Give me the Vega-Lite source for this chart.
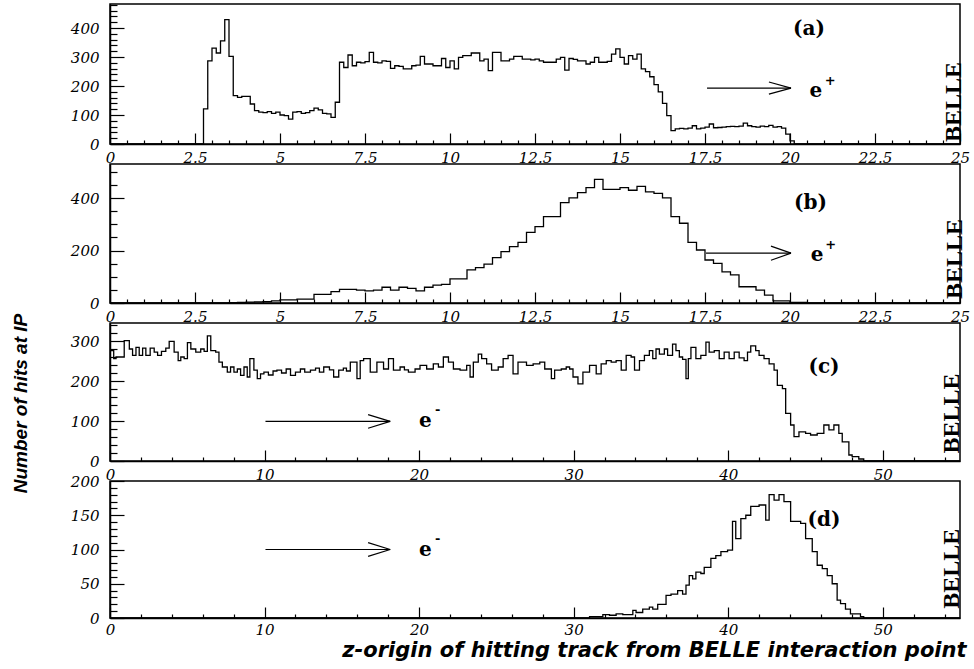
{
"$schema":"https://vega.github.io/schema/vega-lite/v6.json",
"background":"white",
"padding":{"left":10,"top":-3,"right":5,"bottom":5},
"bounds":"flush",
"spacing":20,
"config":{
 "view":{"stroke":"black","strokeWidth":1.5},
 "axis":{"domainColor":"black","domainWidth":1.5,"tickColor":"black","tickWidth":1.2,"ticks":true,"labelFont":"DejaVu Serif","labelFontStyle":"italic","labelFontSize":15,"labelColor":"black","labelFlush":false,"labelOverlap":false,"grid":false,"titleColor":"black"}
},
"vconcat":[
{
 "width":850,"height":140,
 "encoding":{
  "x":{"field":"x","type":"quantitative","scale":{"domain":[0,25],"nice":false,"zero":false},"axis":{"title":null,"format":".1~f","values":[0,0.5,1,1.5,2,2.5,3,3.5,4,4.5,5,5.5,6,6.5,7,7.5,8,8.5,9,9.5,10,10.5,11,11.5,12,12.5,13,13.5,14,14.5,15,15.5,16,16.5,17,17.5,18,18.5,19,19.5,20,20.5,21,21.5,22,22.5,23,23.5,24,24.5,25],"labelExpr":"datum.value % 2.5 === 0 ? datum.label : ''","tickSize":{"condition":{"test":"datum.value % 2.5 === 0","value":-11},"value":-4},"labelPadding":17}},
  "y":{"field":"y","type":"quantitative","scale":{"domain":[0,483],"nice":false},"axis":{"title":null,"format":"d","values":[0,20,40,60,80,100,120,140,160,180,200,220,240,260,280,300,320,340,360,380,400,420,440,460,480],"labelExpr":"datum.value % 100 === 0 ? datum.label : ''","tickSize":{"condition":{"test":"datum.value % 100 === 0","value":-14},"value":-7},"labelPadding":25}}
 },
 "layer":[
  {"data":{"values":[{"x":0,"y":0},{"x":2.75,"y":121},{"x":2.875,"y":287},{"x":3.0,"y":331},{"x":3.125,"y":314},{"x":3.25,"y":356},{"x":3.375,"y":429},{"x":3.5,"y":302},{"x":3.625,"y":167},{"x":3.75,"y":161},{"x":3.875,"y":164},{"x":4.0,"y":164},{"x":4.125,"y":138},{"x":4.25,"y":115},{"x":4.375,"y":110},{"x":4.5,"y":108},{"x":4.625,"y":112},{"x":4.75,"y":106},{"x":4.875,"y":110},{"x":5.0,"y":100},{"x":5.125,"y":98},{"x":5.25,"y":86},{"x":5.375,"y":110},{"x":5.5,"y":112},{"x":5.625,"y":106},{"x":5.75,"y":108},{"x":5.875,"y":115},{"x":6.0,"y":124},{"x":6.125,"y":118},{"x":6.25,"y":106},{"x":6.375,"y":104},{"x":6.5,"y":92},{"x":6.625,"y":144},{"x":6.75,"y":282},{"x":6.875,"y":264},{"x":7.0,"y":307},{"x":7.125,"y":270},{"x":7.25,"y":282},{"x":7.375,"y":280},{"x":7.5,"y":284},{"x":7.625,"y":316},{"x":7.75,"y":282},{"x":7.875,"y":280},{"x":8.0,"y":287},{"x":8.125,"y":285},{"x":8.25,"y":261},{"x":8.375,"y":270},{"x":8.5,"y":268},{"x":8.625,"y":259},{"x":8.75,"y":259},{"x":8.875,"y":270},{"x":9.0,"y":272},{"x":9.125,"y":302},{"x":9.25,"y":276},{"x":9.375,"y":276},{"x":9.5,"y":270},{"x":9.625,"y":270},{"x":9.75,"y":295},{"x":9.875,"y":264},{"x":10.0,"y":287},{"x":10.125,"y":259},{"x":10.25,"y":299},{"x":10.375,"y":305},{"x":10.5,"y":305},{"x":10.625,"y":314},{"x":10.75,"y":314},{"x":10.875,"y":287},{"x":11.0,"y":293},{"x":11.125,"y":253},{"x":11.25,"y":316},{"x":11.375,"y":316},{"x":11.5,"y":287},{"x":11.625,"y":287},{"x":11.75,"y":293},{"x":11.875,"y":302},{"x":12.0,"y":302},{"x":12.125,"y":293},{"x":12.25,"y":293},{"x":12.375,"y":290},{"x":12.5,"y":293},{"x":12.625,"y":287},{"x":12.75,"y":282},{"x":12.875,"y":282},{"x":13.0,"y":282},{"x":13.125,"y":293},{"x":13.25,"y":299},{"x":13.375,"y":255},{"x":13.5,"y":295},{"x":13.625,"y":292},{"x":13.75,"y":287},{"x":13.875,"y":287},{"x":14.0,"y":276},{"x":14.125,"y":282},{"x":14.25,"y":299},{"x":14.375,"y":282},{"x":14.5,"y":282},{"x":14.625,"y":285},{"x":14.75,"y":310},{"x":14.875,"y":328},{"x":15.0,"y":299},{"x":15.125,"y":276},{"x":15.25,"y":305},{"x":15.375,"y":293},{"x":15.5,"y":310},{"x":15.625,"y":259},{"x":15.75,"y":250},{"x":15.875,"y":232},{"x":16.0,"y":205},{"x":16.125,"y":180},{"x":16.25,"y":140},{"x":16.375,"y":98},{"x":16.5,"y":46},{"x":16.625,"y":52},{"x":16.75,"y":54},{"x":16.875,"y":52},{"x":17.0,"y":55},{"x":17.125,"y":63},{"x":17.25,"y":52},{"x":17.375,"y":55},{"x":17.5,"y":58},{"x":17.625,"y":69},{"x":17.75,"y":56},{"x":17.875,"y":57},{"x":18.0,"y":58},{"x":18.125,"y":60},{"x":18.25,"y":61},{"x":18.375,"y":60},{"x":18.5,"y":62},{"x":18.625,"y":72},{"x":18.75,"y":63},{"x":18.875,"y":60},{"x":19.0,"y":58},{"x":19.125,"y":62},{"x":19.25,"y":60},{"x":19.375,"y":64},{"x":19.5,"y":58},{"x":19.625,"y":60},{"x":19.75,"y":55},{"x":19.875,"y":34},{"x":20.0,"y":11},{"x":20.125,"y":0},{"x":25,"y":0}]},"mark":{"type":"line","interpolate":"step-after","color":"black","strokeWidth":1.3}},
  {"data":{"values":[{"x":17.56,"x2":20.03,"y":193,"y2":193},{"x":19.38,"x2":20.03,"y":214,"y2":193},{"x":19.38,"x2":20.03,"y":172,"y2":193}]},"mark":{"type":"rule","color":"black","strokeWidth":1.2},"encoding":{"x2":{"field":"x2"},"y2":{"field":"y2"}}},
  {"data":{"values":[{"x":20.56,"y":397,"t":"(a)","s":20},{"x":20.76,"y":183,"t":"e","s":20},{"x":21.18,"y":217,"t":"+","s":13}]},"mark":{"type":"text","font":"DejaVu Serif","fontWeight":"bold","color":"black"},"encoding":{"text":{"field":"t"},"size":{"field":"s","type":"quantitative","scale":null}}},
  {"data":{"values":[{"x":24.82,"y":145,"t":"BELLE"}]},"mark":{"type":"text","font":"Liberation Serif","fontWeight":"bold","fontSize":24,"angle":270,"color":"black"},"encoding":{"text":{"field":"t"}}}
 ]
},
{
 "width":850,"height":139,
 "encoding":{
  "x":{"field":"x","type":"quantitative","scale":{"domain":[0,25],"nice":false,"zero":false},"axis":{"title":null,"format":".1~f","values":[0,0.5,1,1.5,2,2.5,3,3.5,4,4.5,5,5.5,6,6.5,7,7.5,8,8.5,9,9.5,10,10.5,11,11.5,12,12.5,13,13.5,14,14.5,15,15.5,16,16.5,17,17.5,18,18.5,19,19.5,20,20.5,21,21.5,22,22.5,23,23.5,24,24.5,25],"labelExpr":"datum.value % 2.5 === 0 ? datum.label : ''","tickSize":{"condition":{"test":"datum.value % 2.5 === 0","value":-11},"value":-4},"labelPadding":17}},
  "y":{"field":"y","type":"quantitative","scale":{"domain":[0,530],"nice":false},"axis":{"title":null,"format":"d","values":[0,50,100,150,200,250,300,350,400,450,500],"labelExpr":"datum.value % 200 === 0 ? datum.label : ''","tickSize":{"condition":{"test":"datum.value % 200 === 0","value":-14},"value":-7},"labelPadding":25}}
 },
 "layer":[
  {"data":{"values":[{"x":0,"y":0},{"x":3.5,"y":1},{"x":3.75,"y":2},{"x":4.0,"y":3},{"x":4.25,"y":4},{"x":4.5,"y":5},{"x":4.75,"y":8},{"x":5.0,"y":12},{"x":5.25,"y":12},{"x":5.5,"y":15},{"x":5.75,"y":15},{"x":6.0,"y":33},{"x":6.25,"y":33},{"x":6.5,"y":43},{"x":6.75,"y":52},{"x":7.0,"y":52},{"x":7.25,"y":49},{"x":7.5,"y":46},{"x":7.75,"y":49},{"x":8.0,"y":60},{"x":8.25,"y":49},{"x":8.5,"y":60},{"x":8.75,"y":56},{"x":9.0,"y":46},{"x":9.25,"y":60},{"x":9.5,"y":68},{"x":9.75,"y":71},{"x":10.0,"y":92},{"x":10.25,"y":92},{"x":10.5,"y":126},{"x":10.75,"y":135},{"x":11.0,"y":148},{"x":11.25,"y":173},{"x":11.5,"y":196},{"x":11.75,"y":215},{"x":12.0,"y":231},{"x":12.25,"y":269},{"x":12.5,"y":291},{"x":12.75,"y":329},{"x":13.0,"y":329},{"x":13.25,"y":383},{"x":13.5,"y":401},{"x":13.75,"y":421},{"x":14.0,"y":440},{"x":14.25,"y":471},{"x":14.5,"y":433},{"x":14.75,"y":433},{"x":15.0,"y":440},{"x":15.25,"y":430},{"x":15.5,"y":445},{"x":15.75,"y":424},{"x":16.0,"y":418},{"x":16.25,"y":401},{"x":16.5,"y":329},{"x":16.75,"y":304},{"x":17.0,"y":231},{"x":17.25,"y":202},{"x":17.5,"y":164},{"x":17.75,"y":151},{"x":18.0,"y":119},{"x":18.25,"y":107},{"x":18.5,"y":62},{"x":18.75,"y":62},{"x":19.0,"y":49},{"x":19.25,"y":30},{"x":19.5,"y":8},{"x":19.75,"y":8},{"x":20.0,"y":2},{"x":20.25,"y":2},{"x":20.5,"y":0},{"x":25,"y":0}]},"mark":{"type":"line","interpolate":"step-after","color":"black","strokeWidth":1.3}},
  {"data":{"values":[{"x":17.53,"x2":20.03,"y":190,"y2":190},{"x":19.44,"x2":20.03,"y":217,"y2":190},{"x":19.44,"x2":20.03,"y":163,"y2":190}]},"mark":{"type":"rule","color":"black","strokeWidth":1.2},"encoding":{"x2":{"field":"x2"},"y2":{"field":"y2"}}},
  {"data":{"values":[{"x":20.6,"y":381,"t":"(b)","s":20},{"x":20.8,"y":183,"t":"e","s":20},{"x":21.2,"y":221,"t":"+","s":13}]},"mark":{"type":"text","font":"DejaVu Serif","fontWeight":"bold","color":"black"},"encoding":{"text":{"field":"t"},"size":{"field":"s","type":"quantitative","scale":null}}},
  {"data":{"values":[{"x":24.85,"y":168,"t":"BELLE"}]},"mark":{"type":"text","font":"Liberation Serif","fontWeight":"bold","fontSize":24,"angle":270,"color":"black"},"encoding":{"text":{"field":"t"}}}
 ]
},
{
 "width":850,"height":138,
 "encoding":{
  "x":{"field":"x","type":"quantitative","scale":{"domain":[0,55],"nice":false,"zero":false},"axis":{"title":null,"format":"d","values":[0,2,4,6,8,10,12,14,16,18,20,22,24,26,28,30,32,34,36,38,40,42,44,46,48,50,52,54],"labelExpr":"datum.value % 10 === 0 ? datum.label : ''","tickSize":{"condition":{"test":"datum.value % 10 === 0","value":-11},"value":-4},"labelPadding":17}},
  "y":{"field":"y","type":"quantitative","scale":{"domain":[0,345],"nice":false},"axis":{"title":"Number of hits at IP","titleFont":"Liberation Sans","titleFontStyle":"italic","titleFontWeight":"bold","titleFontSize":19,"titleX":-84,"titleY":80,"titleBaseline":"alphabetic","titleAngle":270,"titleAlign":"center","format":"d","values":[0,20,40,60,80,100,120,140,160,180,200,220,240,260,280,300,320,340],"labelExpr":"datum.value % 100 === 0 ? datum.label : ''","tickSize":{"condition":{"test":"datum.value % 100 === 0","value":-14},"value":-7},"labelPadding":25}}
 },
 "layer":[
  {"data":{"values":[{"x":0,"y":276},{"x":0.24,"y":256},{"x":0.39,"y":260},{"x":0.92,"y":301},{"x":1.25,"y":280},{"x":1.46,"y":264},{"x":1.68,"y":284},{"x":1.89,"y":264},{"x":2.11,"y":282},{"x":2.32,"y":264},{"x":2.6,"y":282},{"x":2.86,"y":272},{"x":3.08,"y":264},{"x":3.33,"y":274},{"x":3.61,"y":282},{"x":3.83,"y":299},{"x":4.15,"y":272},{"x":4.41,"y":251},{"x":4.58,"y":260},{"x":4.8,"y":256},{"x":5.01,"y":296},{"x":5.23,"y":280},{"x":5.55,"y":272},{"x":5.87,"y":280},{"x":6.09,"y":274},{"x":6.3,"y":313},{"x":6.52,"y":276},{"x":6.84,"y":272},{"x":7.05,"y":247},{"x":7.27,"y":235},{"x":7.59,"y":222},{"x":7.8,"y":235},{"x":8.02,"y":222},{"x":8.24,"y":230},{"x":8.45,"y":214},{"x":8.67,"y":235},{"x":8.88,"y":210},{"x":9.05,"y":256},{"x":9.31,"y":227},{"x":9.53,"y":206},{"x":9.74,"y":218},{"x":9.96,"y":222},{"x":10.25,"y":215},{"x":10.55,"y":225},{"x":10.8,"y":227},{"x":11.1,"y":220},{"x":11.4,"y":230},{"x":11.68,"y":214},{"x":12.0,"y":222},{"x":12.32,"y":230},{"x":12.6,"y":222},{"x":12.97,"y":227},{"x":13.3,"y":232},{"x":13.55,"y":222},{"x":13.83,"y":235},{"x":14.2,"y":228},{"x":14.47,"y":210},{"x":14.8,"y":227},{"x":15.1,"y":232},{"x":15.3,"y":225},{"x":15.55,"y":247},{"x":15.98,"y":206},{"x":16.19,"y":251},{"x":16.41,"y":256},{"x":16.84,"y":222},{"x":17.27,"y":247},{"x":17.7,"y":230},{"x":18.02,"y":256},{"x":18.34,"y":227},{"x":18.77,"y":235},{"x":19.05,"y":228},{"x":19.31,"y":222},{"x":19.74,"y":230},{"x":20.06,"y":239},{"x":20.49,"y":230},{"x":20.92,"y":243},{"x":21.25,"y":235},{"x":21.57,"y":260},{"x":21.9,"y":247},{"x":22.22,"y":230},{"x":22.65,"y":227},{"x":23.08,"y":239},{"x":23.3,"y":210},{"x":23.51,"y":247},{"x":23.83,"y":267},{"x":24.05,"y":256},{"x":24.37,"y":243},{"x":24.69,"y":227},{"x":25.12,"y":235},{"x":25.44,"y":256},{"x":25.76,"y":264},{"x":26.08,"y":218},{"x":26.4,"y":247},{"x":26.95,"y":239},{"x":27.38,"y":243},{"x":27.81,"y":247},{"x":28.13,"y":230},{"x":28.56,"y":206},{"x":28.77,"y":227},{"x":29.2,"y":230},{"x":29.52,"y":235},{"x":29.74,"y":230},{"x":29.96,"y":210},{"x":30.28,"y":193},{"x":30.6,"y":222},{"x":31.03,"y":239},{"x":31.46,"y":218},{"x":31.78,"y":243},{"x":32.11,"y":251},{"x":32.43,"y":247},{"x":32.75,"y":251},{"x":33.08,"y":227},{"x":33.4,"y":264},{"x":33.72,"y":260},{"x":33.94,"y":227},{"x":34.26,"y":251},{"x":34.58,"y":264},{"x":34.9,"y":276},{"x":35.12,"y":256},{"x":35.33,"y":280},{"x":35.55,"y":267},{"x":35.87,"y":280},{"x":36.08,"y":264},{"x":36.4,"y":292},{"x":36.62,"y":276},{"x":36.84,"y":260},{"x":37.05,"y":254},{"x":37.27,"y":206},{"x":37.42,"y":256},{"x":37.59,"y":284},{"x":37.91,"y":256},{"x":38.23,"y":264},{"x":38.56,"y":297},{"x":38.77,"y":272},{"x":39.1,"y":276},{"x":39.42,"y":256},{"x":39.74,"y":272},{"x":40.06,"y":256},{"x":40.39,"y":272},{"x":40.71,"y":258},{"x":41.03,"y":251},{"x":41.25,"y":272},{"x":41.46,"y":288},{"x":41.78,"y":276},{"x":42.0,"y":264},{"x":42.32,"y":256},{"x":42.65,"y":243},{"x":42.97,"y":227},{"x":43.18,"y":189},{"x":43.51,"y":181},{"x":43.72,"y":119},{"x":44.04,"y":90},{"x":44.26,"y":61},{"x":44.58,"y":73},{"x":45.01,"y":69},{"x":45.33,"y":65},{"x":45.76,"y":69},{"x":46.19,"y":90},{"x":46.52,"y":78},{"x":46.84,"y":90},{"x":47.16,"y":69},{"x":47.38,"y":48},{"x":47.81,"y":15},{"x":48.02,"y":11},{"x":48.45,"y":5},{"x":48.77,"y":0},{"x":55,"y":0}]},"mark":{"type":"line","interpolate":"step-after","color":"black","strokeWidth":1.3}},
  {"data":{"values":[{"x":10.06,"x2":18.13,"y":99,"y2":99},{"x":16.7,"x2":18.13,"y":116,"y2":99},{"x":16.7,"x2":18.13,"y":82,"y2":99}]},"mark":{"type":"rule","color":"black","strokeWidth":1.2},"encoding":{"x2":{"field":"x2"},"y2":{"field":"y2"}}},
  {"data":{"values":[{"x":46.2,"y":236,"t":"(c)","s":20},{"x":20.4,"y":99,"t":"e","s":20},{"x":21.2,"y":127,"t":"-","s":13}]},"mark":{"type":"text","font":"DejaVu Serif","fontWeight":"bold","color":"black"},"encoding":{"text":{"field":"t"},"size":{"field":"s","type":"quantitative","scale":null}}},
  {"data":{"values":[{"x":54.45,"y":119,"t":"BELLE"}]},"mark":{"type":"text","font":"Liberation Serif","fontWeight":"bold","fontSize":24,"angle":270,"color":"black"},"encoding":{"text":{"field":"t"}}}
 ]
},
{
 "width":850,"height":137,
 "encoding":{
  "x":{"field":"x","type":"quantitative","scale":{"domain":[0,55],"nice":false,"zero":false},"axis":{"title":"z-origin of hitting track from BELLE interaction point","titleFont":"DejaVu Sans","titleFontStyle":"italic","titleFontWeight":"bold","titleFontSize":21,"titleAlign":"right","titleX":856,"titleY":38,"titleBaseline":"alphabetic","format":"d","values":[0,2,4,6,8,10,12,14,16,18,20,22,24,26,28,30,32,34,36,38,40,42,44,46,48,50,52,54],"labelExpr":"datum.value % 10 === 0 ? datum.label : ''","tickSize":{"condition":{"test":"datum.value % 10 === 0","value":-11},"value":-4},"labelPadding":15}},
  "y":{"field":"y","type":"quantitative","scale":{"domain":[0,200],"nice":false},"axis":{"title":null,"format":"d","values":[0,10,20,30,40,50,60,70,80,90,100,110,120,130,140,150,160,170,180,190,200],"labelExpr":"datum.value % 50 === 0 ? datum.label : ''","tickSize":{"condition":{"test":"datum.value % 50 === 0","value":-14},"value":-7},"labelPadding":25}}
 },
 "layer":[
  {"data":{"values":[{"x":0,"y":0},{"x":31.03,"y":2},{"x":31.89,"y":5},{"x":32.32,"y":4},{"x":32.75,"y":6},{"x":33.18,"y":5},{"x":33.83,"y":11},{"x":34.04,"y":8},{"x":34.47,"y":13},{"x":34.9,"y":16},{"x":35.12,"y":13},{"x":35.44,"y":20},{"x":35.98,"y":33},{"x":36.3,"y":35},{"x":36.73,"y":40},{"x":37.05,"y":35},{"x":37.27,"y":48},{"x":37.48,"y":62},{"x":37.7,"y":57},{"x":37.91,"y":67},{"x":38.23,"y":65},{"x":38.45,"y":74},{"x":38.88,"y":87},{"x":39.2,"y":91},{"x":39.53,"y":97},{"x":39.96,"y":99},{"x":40.28,"y":141},{"x":40.49,"y":116},{"x":40.82,"y":145},{"x":41.14,"y":150},{"x":41.46,"y":163},{"x":42.0,"y":165},{"x":42.43,"y":143},{"x":42.65,"y":180},{"x":42.97,"y":172},{"x":43.29,"y":180},{"x":43.61,"y":170},{"x":44.04,"y":141},{"x":44.69,"y":138},{"x":45.01,"y":116},{"x":45.44,"y":97},{"x":45.76,"y":77},{"x":46.09,"y":72},{"x":46.41,"y":62},{"x":46.73,"y":50},{"x":47.05,"y":26},{"x":47.27,"y":21},{"x":47.59,"y":13},{"x":47.91,"y":6},{"x":48.56,"y":2},{"x":48.77,"y":0},{"x":55,"y":0}]},"mark":{"type":"line","interpolate":"step-after","color":"black","strokeWidth":1.3}},
  {"data":{"values":[{"x":10.06,"x2":18.13,"y":100,"y2":100},{"x":16.7,"x2":18.13,"y":110,"y2":100},{"x":16.7,"x2":18.13,"y":90,"y2":100}]},"mark":{"type":"rule","color":"black","strokeWidth":1.2},"encoding":{"x2":{"field":"x2"},"y2":{"field":"y2"}}},
  {"data":{"values":[{"x":46.2,"y":143,"t":"(d)","s":20},{"x":20.4,"y":100,"t":"e","s":20},{"x":21.2,"y":116,"t":"-","s":13}]},"mark":{"type":"text","font":"DejaVu Serif","fontWeight":"bold","color":"black"},"encoding":{"text":{"field":"t"},"size":{"field":"s","type":"quantitative","scale":null}}},
  {"data":{"values":[{"x":54.45,"y":72,"t":"BELLE"}]},"mark":{"type":"text","font":"Liberation Serif","fontWeight":"bold","fontSize":24,"angle":270,"color":"black"},"encoding":{"text":{"field":"t"}}}
 ]
}
]
}
